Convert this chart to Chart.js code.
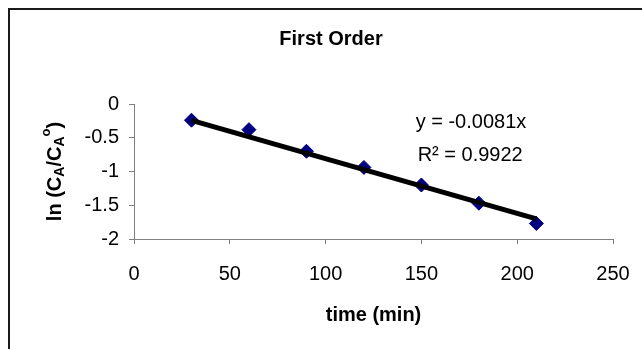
<!DOCTYPE html>
<html>
<head>
<meta charset="utf-8">
<title>First Order</title>
<script src="https://cdn.jsdelivr.net/npm/chart.js@4.4.1/dist/chart.umd.min.js"></script>
<style>
  html, body { margin: 0; padding: 0; background: #fff; }
  #wrap { width: 642px; height: 349px; }
</style>
</head>
<body>
<div id="wrap"><canvas id="order-chart" width="642" height="349"></canvas></div>
<script>
// time (min) and ln(CA/CA0) readings
const times = [30, 60, 90, 120, 150, 180, 210];
const lnRatio = [-0.24, -0.38, -0.70, -0.94, -1.20, -1.47, -1.77];

// fitted line through the origin
const slope = -0.0081;
const rSquared = 0.9922;
const fitRange = [30, 210];

const xTicks = [0, 50, 100, 150, 200, 250];
const yTicks = [0, -0.5, -1, -1.5, -2];

const FONT = 'Arial, "Liberation Sans", sans-serif';

// Points
const points = times.map((t, i) => ({ x: t, y: lnRatio[i] }));
const fitLine = fitRange.map(t => ({ x: t, y: slope * t }));

// Border, titles and the fit equation
const decorations = {
  id: 'decorations',
  beforeDraw(chart) {
    const ctx = chart.ctx;
    ctx.save();
    ctx.fillStyle = '#fff';
    ctx.fillRect(0, 0, chart.width, chart.height);
    ctx.strokeStyle = '#1a1a1a';
    ctx.lineWidth = 2;
    ctx.beginPath();
    ctx.moveTo(9, chart.height);
    ctx.lineTo(9, 9);
    ctx.lineTo(chart.width, 9);
    ctx.stroke();
    ctx.restore();
  },
  afterDraw(chart) {
    const ctx = chart.ctx;
    const area = chart.chartArea;
    const xs = chart.scales.x;
    const ys = chart.scales.y;
    ctx.save();
    ctx.fillStyle = '#000';
    ctx.textBaseline = 'middle';

    // chart title
    ctx.font = 'bold 20px ' + FONT;
    ctx.textAlign = 'center';
    ctx.fillText('First Order', 331, 39);

    // x axis title
    ctx.fillText('time (min)', (area.left + area.right) / 2, 315);

    // equation + R^2
    ctx.font = '20px ' + FONT;
    ctx.textAlign = 'left';
    const ex = xs.getPixelForValue(147);
    ctx.fillText('y = ' + slope + 'x', ex, ys.getPixelForValue(-0.28));
    ctx.fillText('R\u00B2 = ' + rSquared, ex + 2, ys.getPixelForValue(-0.76));

    // y axis title: ln (C_A/C_A^o)
    ctx.translate(55, (area.top + area.bottom) / 2);
    ctx.rotate(-Math.PI / 2);
    const parts = [
      { t: 'ln (C', size: 20, dy: 0 },
      { t: 'A', size: 14, dy: 5 },
      { t: '/C', size: 20, dy: 0 },
      { t: 'A', size: 14, dy: 5 },
      { t: 'o', size: 13, dy: -9 },
      { t: ')', size: 20, dy: 0 }
    ];
    let total = 0;
    parts.forEach(p => {
      ctx.font = 'bold ' + p.size + 'px ' + FONT;
      p.w = ctx.measureText(p.t).width;
      total += p.w;
    });
    let px = -total / 2;
    parts.forEach(p => {
      ctx.font = 'bold ' + p.size + 'px ' + FONT;
      ctx.fillText(p.t, px, p.dy);
      px += p.w;
    });
    ctx.restore();
  }
};

new Chart(document.getElementById('order-chart'), {
  type: 'scatter',
  data: {
    datasets: [
      {
        label: 'fit',
        type: 'line',
        data: fitLine,
        borderColor: '#000',
        borderWidth: 5,
        pointRadius: 0,
        fill: false,
        order: 0
      },
      {
        label: 'ln(CA/CA0)',
        data: points,
        pointStyle: 'rectRot',
        pointRadius: 7,
        backgroundColor: '#000080',
        borderColor: '#000080',
        borderWidth: 1,
        order: 1
      }
    ]
  },
  options: {
    responsive: false,
    animation: false,
    layout: { padding: { top: 104, right: 29, left: 0, bottom: 0 } },
    plugins: {
      legend: { display: false },
      tooltip: { enabled: false }
    },
    scales: {
      x: {
        type: 'linear',
        min: 0,
        max: 250,
        afterBuildTicks: s => { s.ticks = xTicks.map(v => ({ value: v })); },
        afterFit: s => { s.height = 110; s.paddingLeft = 0; s.paddingRight = 0; },
        grid: { drawOnChartArea: false, drawTicks: true, tickLength: 5, color: '#808080' },
        border: { color: '#808080', width: 1 },
        ticks: { color: '#000', font: { family: FONT, size: 20 }, padding: 18, maxRotation: 0,
                 callback: v => String(v) }
      },
      y: {
        type: 'linear',
        min: -2,
        max: 0,
        afterBuildTicks: s => { s.ticks = yTicks.map(v => ({ value: v })); },
        afterFit: s => { s.width = 134; s.paddingTop = 0; s.paddingBottom = 0; },
        grid: { drawOnChartArea: false, drawTicks: true, tickLength: 5, color: '#808080' },
        border: { color: '#808080', width: 1 },
        ticks: { color: '#000', font: { family: FONT, size: 20 }, padding: 10,
                 callback: v => String(v) }
      }
    }
  },
  plugins: [decorations]
});
</script>
</body>
</html>
